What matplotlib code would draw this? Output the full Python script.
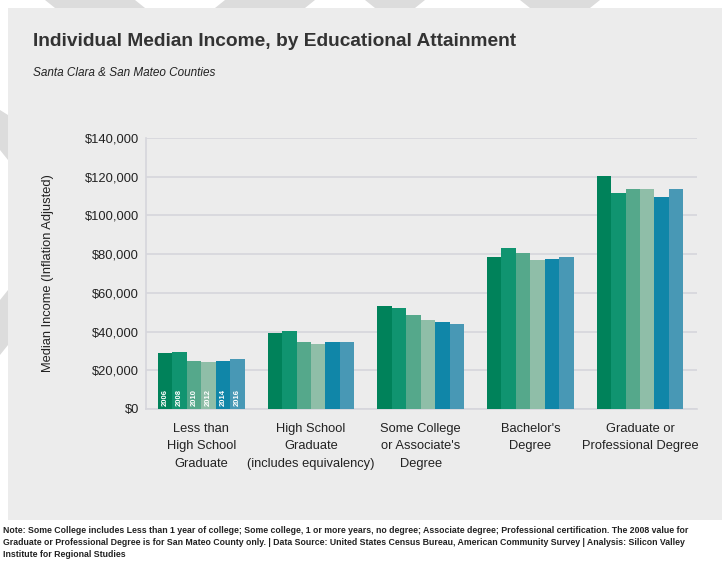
import matplotlib
matplotlib.use("Agg")
import matplotlib.pyplot as plt
from matplotlib.patches import Rectangle, Polygon
import numpy as np

categories = ["Less than\nHigh School\nGraduate",
              "High School\nGraduate\n(includes equivalency)",
              "Some College\nor Associate's\nDegree",
              "Bachelor's\nDegree",
              "Graduate or\nProfessional Degree"]
years = ["2006", "2008", "2010", "2012", "2014", "2016"]
values = {
    "2006": [28800, 39300, 53400, 78700, 120200],
    "2008": [29600, 40100, 52300, 83300, 111700],
    "2010": [25000, 34500, 48600, 80600, 113500],
    "2012": [24100, 33600, 45800, 76800, 113500],
    "2014": [25000, 34500, 44800, 77700, 109700],
    "2016": [26000, 34500, 43900, 78700, 113500],
}
colors = ["#00825a", "#109470", "#55a88b", "#8fbea8", "#1086a8", "#4898b5"]
yticks = [0, 20000, 40000, 60000, 80000, 100000, 120000, 140000]
ytick_labels = ["$0", "$20,000", "$40,000", "$60,000", "$80,000",
                "$100,000", "$120,000", "$140,000"]

FONT = ["Liberation Sans", "DejaVu Sans"]
plt.rcParams["font.family"] = FONT

W, H = 722, 569
fig = plt.figure(figsize=(W / 100, H / 100), dpi=100)
fig.patch.set_facecolor("white")

fig.patches.append(Rectangle((8 / W, 1 - 520 / H), 714 / W, 512 / H,
                             transform=fig.transFigure, facecolor="#ececec",
                             edgecolor="none", zorder=-2))
stripes = [
    [(45, 0), (135, 0), (145, 8), (55, 8)],
    [(225, 0), (315, 0), (305, 8), (215, 8)],
    [(365, 0), (425, 0), (415, 8), (375, 8)],
    [(520, 0), (600, 0), (590, 8), (530, 8)],
    [(0, 110), (8, 115), (8, 160), (0, 150)],
    [(0, 300), (8, 290), (8, 345), (0, 355)],
]
for pts in stripes:
    fig.patches.append(Polygon([(x / W, 1 - y / H) for x, y in pts],
                               closed=True, transform=fig.transFigure,
                               facecolor="#dcdcdc", edgecolor="none", zorder=-2))

ax = fig.add_axes([146 / W, 1 - 409 / H, (697 - 146) / W, (409 - 138) / H])
ax.set_facecolor("none")

x = np.arange(len(categories))
bw = 0.132
n = len(years)
for i, yr in enumerate(years):
    offs = (i - (n - 1) / 2) * bw
    ax.bar(x + offs, values[yr], width=bw, color=colors[i], zorder=3,
           edgecolor="none")
    ax.text(0 + offs, 1500, yr, rotation=90, ha="center", va="bottom",
            color="white", fontsize=5.5, fontweight="bold", zorder=4)

ax.set_xlim(-0.505, 4.52)
ax.set_ylim(0, 140000)
ax.set_yticks(yticks)
ax.set_yticklabels(ytick_labels)
ax.set_xticks(x)
ax.set_xticklabels(categories, linespacing=1.6)
ax.tick_params(axis="both", length=0, labelsize=9.3, colors="#222222")
ax.tick_params(axis="y", pad=5)
ax.tick_params(axis="x", pad=10)
ax.grid(axis="y", color="#d6d6dc", linewidth=1.2, zorder=0)
for s in ["top", "right"]:
    ax.spines[s].set_visible(False)
ax.spines["left"].set_color("#d6d6dc")
ax.spines["bottom"].set_color("#d6d6dc")
ax.spines["left"].set_linewidth(1.2)
ax.spines["bottom"].set_linewidth(1.2)

ax.set_ylabel("Median Income (Inflation Adjusted)", fontsize=9.3,
              color="#222222", labelpad=22)

fig.text(33 / W, 1 - 41 / H, "Individual Median Income, by Educational Attainment",
         fontsize=13.8, fontweight="bold", color="#333333", va="center", ha="left")
fig.text(33 / W, 1 - 73 / H, "Santa Clara & San Mateo Counties",
         fontsize=8.5, style="italic", color="#222222", va="center", ha="left")

note = ("Note: Some College includes Less than 1 year of college; Some college, 1 or more years, "
        "no degree; Associate degree; Professional certification. The 2008 value for\n"
        "Graduate or Professional Degree is for San Mateo County only. | Data Source: United States "
        "Census Bureau, American Community Survey | Analysis: Silicon Valley\n"
        "Institute for Regional Studies")
fig.text(3 / W, 1 - 526 / H, note, fontsize=6.35, fontweight="bold",
         color="#222222", va="top", ha="left", linespacing=1.45)

fig.savefig("out.png", dpi=100, facecolor="white")
